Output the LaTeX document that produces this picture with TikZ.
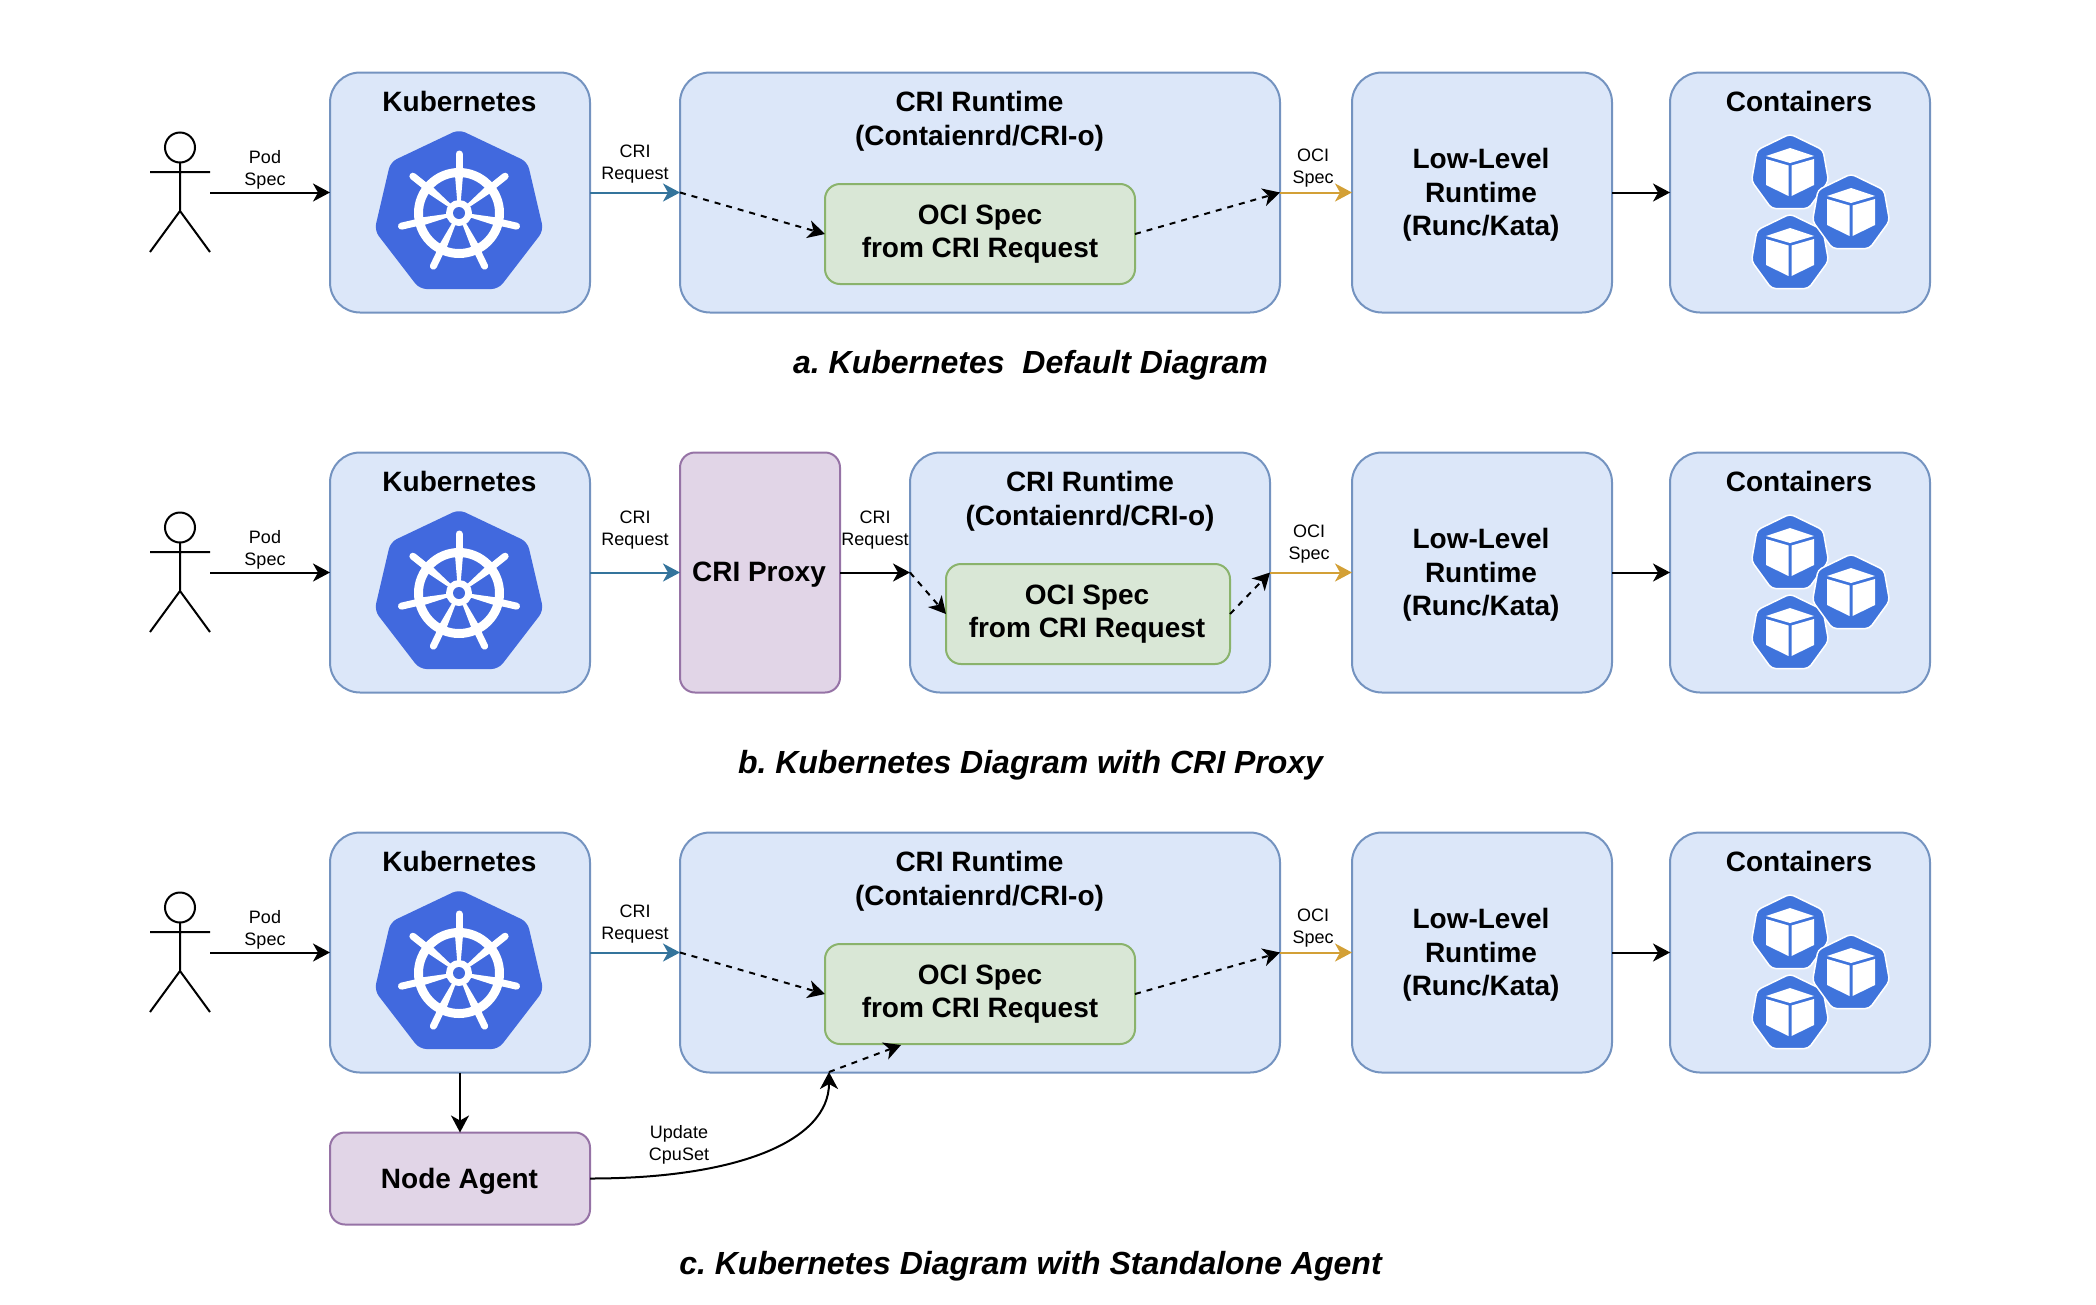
\documentclass[tikz,border=0pt]{standalone}
\usepackage{fontspec}
\setmainfont{Liberation Sans}
\usetikzlibrary{arrows.meta}
\definecolor{bluefill}{HTML}{DCE7F9}
\definecolor{blueline}{HTML}{7493C0}
\definecolor{greenfill}{HTML}{D9E7D6}
\definecolor{greenline}{HTML}{8AB36C}
\definecolor{purplefill}{HTML}{E1D5E7}
\definecolor{purpleline}{HTML}{9673A6}
\definecolor{criarrow}{HTML}{34749C}
\definecolor{ociarrow}{HTML}{D3A036}
\definecolor{kubeblue}{HTML}{4169DE}
\definecolor{podblue}{HTML}{3F74DC}
\tikzset{
  x=1pt,y=-1pt,
  box/.style={draw,line width=2pt,inner sep=0pt,outer sep=0pt,rounded corners=30pt},
  bluebox/.style={box,draw=blueline,fill=bluefill},
  greenbox/.style={box,draw=greenline,fill=greenfill,rounded corners=15pt,
     minimum width=310pt,minimum height=100pt,align=center},
  purplebox/.style={box,draw=purpleline,fill=purplefill,rounded corners=15pt,align=center},
  bold/.style={inner sep=0pt,outer sep=0pt,align=center,font=\bigtxt},
  small/.style={inner sep=0pt,outer sep=0pt,align=center,font=\smalltxt},
  caption/.style={inner sep=0pt,outer sep=0pt,font=\captxt},
  link/.style={line width=2pt,-{Stealth[length=17pt,width=18pt,inset=5pt]}},
  dashlink/.style={link,dash pattern=on 6pt off 6pt},
  crilink/.style={link,draw=criarrow,-{Stealth[length=17pt,width=18pt,inset=5pt,fill=criarrow]}},
  ocilink/.style={link,draw=ociarrow,-{Stealth[length=17pt,width=18pt,inset=5pt,fill=ociarrow]}},
  kubelogo/.pic={
    \fill[kubeblue,rounded corners=7pt] (0,-83.5)--(68.5,-51)--(84.5,17.5)--(39.5,76)--(-39.5,76)--(-84.5,17.5)--(-68.5,-51)--cycle;
    \fill[white,even odd rule] (0,0) circle (45) (0,0) circle (36);
    \foreach \a in {-90,-38.57,12.86,64.29,115.71,167.14,218.57}{
      \fill[white] (\a-9:11)--(\a+9:11)--(\a+6:40)--(\a-6:40)--cycle;
      \draw[white,line width=7pt,line cap=round] (\a:40)--(\a:59);
    }
    \fill[white] (0,0) circle (13);
    \fill[kubeblue] (0,0) circle (6);
  },
  podicon/.pic={
    \fill[podblue,draw=white,line width=1.5pt,rounded corners=4pt] (0,-39)--(33,-23)--(38.5,8)--(18.5,35.5)--(-18.5,35.5)--(-38.5,8)--(-33,-23)--cycle;
    \fill[white] (0,-25)--(24,-17)--(0,-10)--(-24,-17)--cycle;
    \fill[white] (-24,-14)--(-1.5,-7.5)--(-1.5,23)--(-24,12)--cycle;
    \fill[white] (24,-14)--(1.5,-7.5)--(1.5,23)--(24,12)--cycle;
  }
}
\newcommand{\bigtxt}{\fontsize{28}{33.6}\selectfont\bfseries}
\newcommand{\smalltxt}{\fontsize{18}{22}\selectfont}
\newcommand{\captxt}{\fontsize{32}{38}\selectfont\bfseries\itshape\frenchspacing}
\begin{document}
\begin{tikzpicture}
\useasboundingbox (0,0) rectangle (2096,1304);
% parts shared by all three rows
\foreach \r/\dy in {a/0,b/380,c/760}{
\begin{scope}[shift={(0,\dy)}]
  \node[bluebox,minimum width=260pt,minimum height=240pt] (k\r) at (460,192.5) {};
  \node[bluebox,minimum width=260pt,minimum height=240pt] (low\r) at (1482,192.5) {};
  \node[bluebox,minimum width=260pt,minimum height=240pt] (con\r) at (1800,192.5) {};
  \node[bold] (lowt\r) at (1481,195) {Low-Level\\Runtime\\(Runc/Kata)};
  \node[bold] (kt\r) at (459.5,101) {Kubernetes};
  \node[bold] (cont\r) at (1799,101) {Containers};
  \pic at (459,213) {kubelogo};
  \pic at (1790,173) {podicon};
  \pic at (1790,253) {podicon};
  \pic at (1851,213) {podicon};
  \draw[line width=2pt] (180,147.5) circle (15);
  \draw[line width=2pt] (180,162.5)--(180,211) (150,172)--(210,172) (150,252)--(180,211)--(210,252);
  \coordinate (act\r) at (210,192.5);
  \node[small] (pod\r) at (265,170) {Pod\\Spec};
  \draw[link] (act\r) -- (k\r.west);
  \draw[link] (low\r.east) -- (con\r.west);
\end{scope}
}
% row a
\node[bluebox,minimum width=600pt,minimum height=240pt] (ra) at (980,192.5) {};
\node[bold] (rta) at (979.5,121.5) {CRI Runtime\\(Contaienrd/CRI-o)};
\node[greenbox] (ga) at (980,234) {};
\node[bold] (gta) at (980,234) {OCI Spec\\from CRI Request};
\node[small] (cria) at (635,164) {CRI\\Request};
\node[small] (ocia) at (1313,168) {OCI\\Spec};
\draw[crilink] (ka.east) -- (ra.west);
\draw[ocilink] (ra.east) -- (lowa.west);
\draw[dashlink] (ra.west) -- (ga.west);
\draw[dashlink] (ga.east) -- (ra.east);
\node[caption] (capa) at (1030.5,365) {a. Kubernetes\ \ Default Diagram};
% row b
\node[purplebox,minimum width=160pt,minimum height=240pt] (pb) at (760,572.5) {};
\node[bold] (pbt) at (759,575) {CRI Proxy};
\node[bluebox,minimum width=360pt,minimum height=240pt] (rb) at (1090,572.5) {};
\node[bold] (rtb) at (1090,501.5) {CRI Runtime\\(Contaienrd/CRI-o)};
\node[greenbox,minimum width=284pt] (gb) at (1088,614) {};
\node[bold] (gtb) at (1087,614) {OCI Spec\\from CRI Request};
\node[small] (crib) at (635,530) {CRI\\Request};
\node[small] (crib2) at (875,530) {CRI\\Request};
\node[small] (ocib) at (1309,544.5) {OCI\\Spec};
\draw[crilink] (kb.east) -- (pb.west);
\draw[link] (pb.east) -- (rb.west);
\draw[ocilink] (rb.east) -- (lowb.west);
\draw[dashlink] (rb.west) -- (gb.west);
\draw[dashlink] (gb.east) -- (rb.east);
\node[caption] (capb) at (1030.5,765) {b. Kubernetes Diagram with CRI Proxy};
% row c
\node[bluebox,minimum width=600pt,minimum height=240pt] (rc) at (980,952.5) {};
\node[bold] (rtc) at (979.5,881.5) {CRI Runtime\\(Contaienrd/CRI-o)};
\node[greenbox] (gc) at (980,994) {};
\node[bold] (gtc) at (980,994) {OCI Spec\\from CRI Request};
\node[small] (cric) at (635,924) {CRI\\Request};
\node[small] (ocic) at (1313,928) {OCI\\Spec};
\node[purplebox,minimum width=260pt,minimum height=92pt] (ag) at (460,1178.5) {};
\node[bold] (agt) at (459.5,1181) {Node Agent};
\node[small] (upd) at (679,1144.5) {Update\\CpuSet};
\coordinate (mid) at (829,1072);
\coordinate (gtip) at (901,1045);
\draw[crilink] (kc.east) -- (rc.west);
\draw[ocilink] (rc.east) -- (lowc.west);
\draw[dashlink] (rc.west) -- (gc.west);
\draw[dashlink] (gc.east) -- (rc.east);
\draw[link] (kc.south) -- (ag.north);
\draw[link] (ag.east) .. controls (740,1178.5) and (829,1140) .. (mid);
\draw[dashlink] (mid) -- (gtip);
\node[caption] (capc) at (1030.5,1266) {c. Kubernetes Diagram with Standalone Agent};
\end{tikzpicture}
\end{document}
